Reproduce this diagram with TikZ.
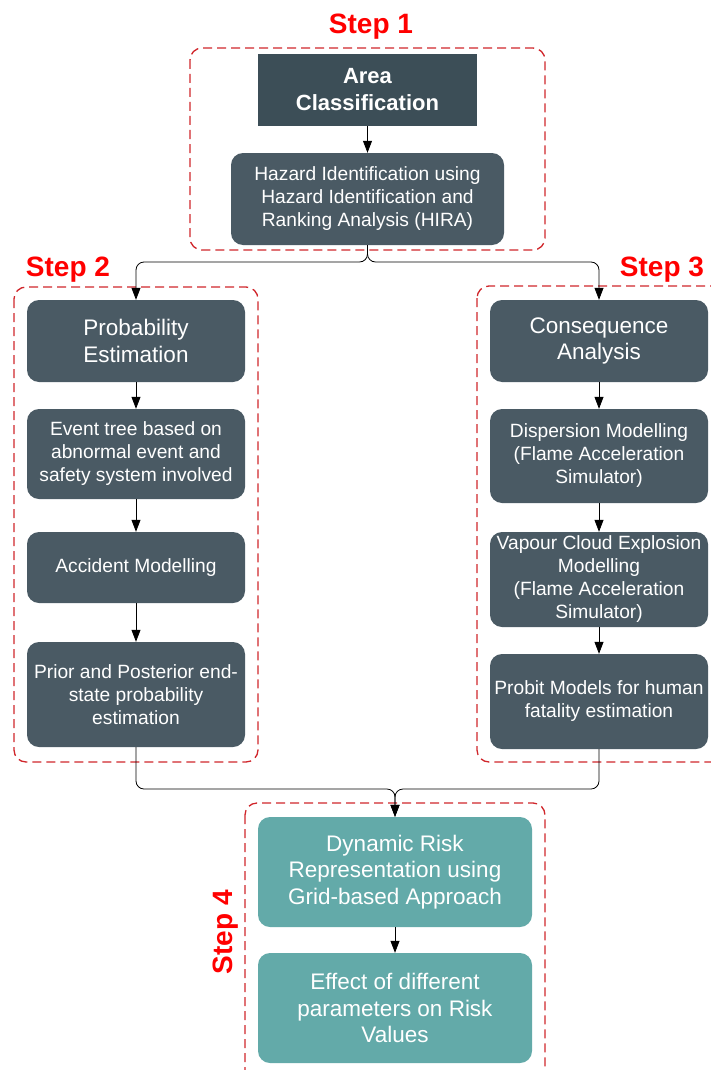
\documentclass[tikz,border=0pt]{standalone}
\usepackage{fontspec}
\setmainfont{Liberation Sans}
\usetikzlibrary{arrows.meta}
\definecolor{slate}{HTML}{4A5A64}
\definecolor{slatedark}{HTML}{3C4E57}
\definecolor{riskteal}{HTML}{63AAA9}
\definecolor{framered}{HTML}{D0262B}

\begin{document}
\begin{tikzpicture}[x=1pt,y=-1pt,>={Triangle[length=12pt,width=9pt]},
    box/.style={fill=slate,rounded corners=12pt,text=white,align=center,
      inner sep=0pt,minimum width=218pt,font=\fontsize{19.2}{23}\selectfont},
    bigtext/.style={font=\fontsize{22.5}{26.5}\selectfont},
    stepbox/.style={draw=framered,line width=1.3pt,dash pattern=on 9pt off 5pt,
      rounded corners=12pt},
    steplabel/.style={text=red,font=\fontsize{28}{32}\selectfont\bfseries},
    link/.style={->,line width=0.8pt,rounded corners=8pt}]
      \useasboundingbox (0,0) rectangle (711,1070) ;
      % dashed frames of the four steps
      \draw[stepbox] (190,48) rectangle (545,250) ;
      \draw[stepbox] (14,287) rectangle (258,762) ;
      \draw[stepbox] (477,286) rectangle (724,762) ;
      \draw[stepbox] (245,803) rectangle (545,1090) ;
      \node[steplabel] (s1) at (371,27) {Step 1} ;
      \node[steplabel] (s2) at (68,270) {Step 2} ;
      \node[steplabel] (s3) at (662,270) {Step 3} ;
      \node[steplabel,rotate=90] (s4) at (226,932) {Step 4} ;
      % step 1
      \node[box,fill=slatedark,rounded corners=0pt,minimum width=219pt,minimum height=72pt,%
        font=\fontsize{22}{27}\selectfont\bfseries] (area) at (367.5,90) {Area\\Classification} ;
      \node[box,minimum width=273pt,minimum height=92pt] (hira) at (367.5,199)
        {Hazard Identification using\\Hazard Identification and\\Ranking Analysis (HIRA)} ;
      % step 2
      \node[box,bigtext,minimum height=82pt] (prob) at (136,341) {Probability\\Estimation} ;
      \node[box,minimum height=90pt] (event) at (136,454)
        {Event tree based on\\abnormal event and\\safety system involved} ;
      \node[box,minimum height=71pt] (accident) at (136,567.5) {Accident Modelling} ;
      \node[box,minimum height=105pt] (prior) at (136,694.5)
        {Prior and Posterior end-\\state probability\\estimation} ;
      % step 3
      \node[box,bigtext,minimum height=82pt] (cons) at (599,341) {Consequence\\Analysis} ;
      \node[box,minimum height=94pt] (disp) at (599,456)
        {Dispersion Modelling\\(Flame Acceleration\\Simulator)} ;
      \node[box,minimum height=95pt] (vapour) at (599,579.5)
        {Vapour Cloud Explosion\\Modelling\\(Flame Acceleration\\Simulator)} ;
      \node[box,minimum height=95pt] (probit) at (599,701.5)
        {Probit Models for human\\fatality estimation} ;
      % step 4
      \node[box,bigtext,fill=riskteal,minimum width=274pt,minimum height=110pt] (dyn) at (395,872)
        {Dynamic Risk\\Representation using\\Grid-based Approach} ;
      \node[box,bigtext,fill=riskteal,minimum width=274pt,minimum height=110pt] (effect) at (395,1008)
        {Effect of different\\parameters on Risk\\Values} ;
      % connectors
      \coordinate (split) at (367.5,262) ;
      \coordinate (merge) at (395,789) ;
      \draw[link] (area.south) -- (hira.north) ;
      \draw[link] (hira.south) -- (split) -| (prob.north) ;
      \draw[link] (hira.south) -- (split) -| (cons.north) ;
      \draw[link] (prob.south) -- (event.north) ;
      \draw[link] (event.south) -- (accident.north) ;
      \draw[link] (accident.south) -- (prior.north) ;
      \draw[link] (cons.south) -- (disp.north) ;
      \draw[link] (disp.south) -- (vapour.north) ;
      \draw[link] (vapour.south) -- (probit.north) ;
      \draw[link] (prior.south) |- (merge) -- (dyn.north) ;
      \draw[link] (probit.south) |- (merge) -- (dyn.north) ;
      \draw[link] (dyn.south) -- (effect.north) ;
    \end{tikzpicture}
\end{document}
